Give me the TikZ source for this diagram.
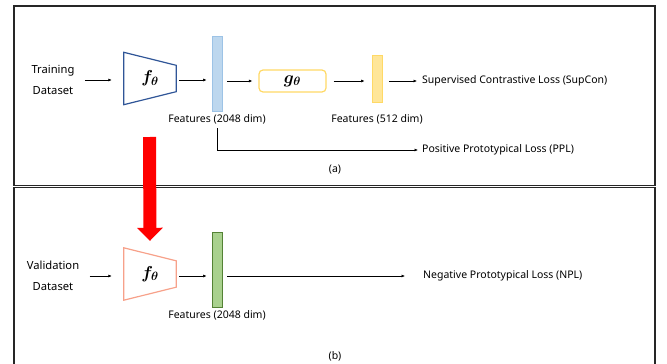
\documentclass[tikz,border=0pt]{standalone}
\usepackage{fontspec}
\setmainfont{Noto Sans}
\usepackage{bm}
\usetikzlibrary{arrows.meta, positioning}
\usepackage{xcolor}
\definecolor{encblue}{HTML}{2F5597}
\definecolor{encsalmon}{HTML}{F7A18A}
\definecolor{barblue}{HTML}{BDD7EE}
\definecolor{barblueline}{HTML}{9DC3E6}
\definecolor{gold}{HTML}{FFD966}
\definecolor{baryellow}{HTML}{FFE699}
\definecolor{bargreen}{HTML}{A9D18E}
\definecolor{bargreenline}{HTML}{548235}
\definecolor{framegray}{HTML}{262626}

\begin{document}
\begin{tikzpicture}[
x=1pt, y=-1pt,
node distance=2pt,
lbl/.style={font=\fontsize{10.5}{13}\selectfont, inner sep=1pt},
src/.style={font=\fontsize{11.2}{21}\selectfont, align=center},
enc/.style={rectangle, minimum width=52pt, minimum height=52pt, inner sep=0pt, font=\fontsize{17}{17}\selectfont},
bar/.style={draw, rectangle, minimum width=10pt, inner sep=0pt, line width=0.8pt},
arrow/.style={-{Latex[length=3.5pt, width=3pt]}, line width=0.6pt},
bigarrow/.style={-{Triangle[width=25pt, length=13pt]}, line width=13pt, red},
frame/.style={draw=framegray, line width=1.5pt}
]

\useasboundingbox (0,0) rectangle (667,364);
\draw[frame] (14,6) rectangle (655,185.5);
\draw[frame] (14,187.5) rectangle (655,372);

% (a) training
\node[src] (train) at (53,80) {Training\\Dataset};
\node[enc] (ftrain) at (150,78.5) {$\bm{f_\theta}$};
\draw[encblue, line width=1.2pt] (ftrain.north west) -- ([yshift=-13pt]ftrain.north east) -- ([yshift=13pt]ftrain.south east) -- (ftrain.south west) -- cycle;
\node[bar, fill=barblue, draw=barblueline, minimum height=75pt] (bar1) at (217,73.5) {};
\node[draw=gold, line width=1.2pt, rounded corners=4pt, minimum width=67pt, minimum height=22pt, font=\fontsize{17}{17}\selectfont] (gbox) at (292.5,81) {$\bm{g_\theta}$};
\node[bar, fill=baryellow, draw=gold, minimum height=47pt] (bar2) at (377,78.5) {};
\node[lbl, anchor=west] (supcon) at (421,81) {Supervised Contrastive Loss (SupCon)};
\node[lbl, below=2pt of bar1] (feat1) {Features (2048 dim)};
\node[lbl] (feat2) at (bar2 |- feat1) {Features (512 dim)};
\node[lbl, anchor=west] (ppl) at (421,150) {Positive Prototypical Loss (PPL)};
\node[lbl] (capa) at (335,170) {(a)};

\draw[arrow, shorten <=7pt, shorten >=12pt] (train.east |- 0,80) -- (ftrain.west |- 0,80);
\draw[arrow, shorten <=3pt, shorten >=5pt] (ftrain.east |- 0,80) -- (bar1.west |- 0,80);
\draw[arrow, shorten <=5pt, shorten >=6pt] (bar1.east |- gbox) -- (gbox.west);
\draw[arrow, shorten <=7pt, shorten >=7pt] (gbox.east) -- (bar2.west |- gbox);
\draw[arrow, shorten <=7pt, shorten >=4pt] (bar2.east |- supcon) -- (supcon.west);
\draw[arrow, shorten <=3pt, shorten >=3pt] (feat1.south) |- (ppl.west);

% (b) validation
\node[src] (val) at (53,276) {Validation\\Dataset};
\node[enc] (fval) at (150,274) {$\bm{f_\theta}$};
\draw[encsalmon, line width=1.2pt] (fval.north west) -- ([yshift=-13pt]fval.north east) -- ([yshift=13pt]fval.south east) -- (fval.south west) -- cycle;
\node[bar, fill=bargreen, draw=bargreenline, minimum height=75pt] (bar3) at (217,269.5) {};
\node[lbl, below=2pt of bar3] (feat3) {Features (2048 dim)};
\node[lbl, anchor=west] (npl) at (422,276) {Negative Prototypical Loss (NPL)};
\node[lbl] (capb) at (335,356) {(b)};

\draw[arrow, shorten <=7pt, shorten >=12pt] (val.east |- 0,276) -- (fval.west |- 0,276);
\draw[arrow, shorten <=3pt, shorten >=5pt] (fval.east |- 0,276) -- (bar3.west |- 0,276);
\draw[arrow, shorten <=5pt, shorten >=17pt] (bar3.east |- npl) -- (npl.west);

% transfer of f_theta
\coordinate (redtop) at (149.5,137);
\draw[bigarrow] (redtop) -- ([yshift=7pt]fval.north);

\end{tikzpicture}
\end{document}
